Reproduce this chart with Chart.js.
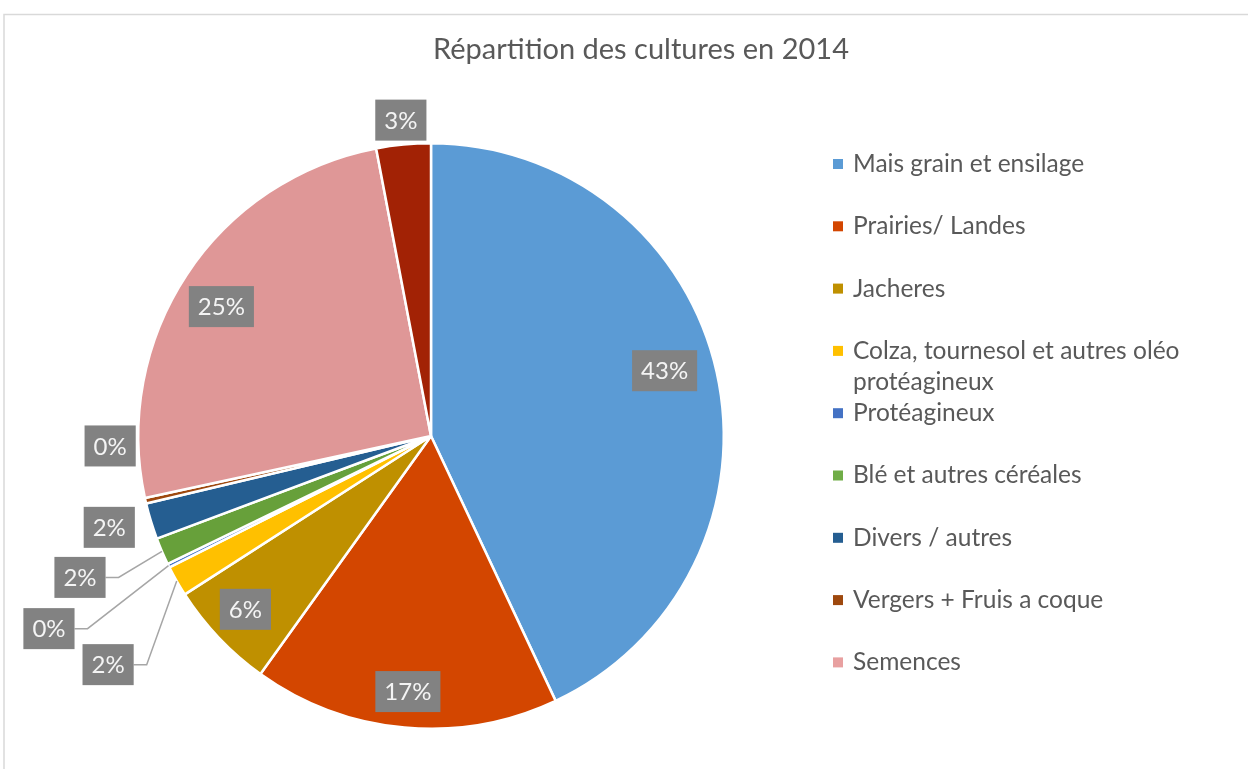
<!DOCTYPE html>
<html><head><meta charset="utf-8">
<script src="https://cdn.jsdelivr.net/npm/chart.js@4.4.1/dist/chart.umd.min.js"></script>
<style>html,body{margin:0;padding:0;background:#fff;overflow:hidden}#wrap{position:relative;width:1248px;height:769px}</style>
</head><body><div id="wrap"><canvas id="c" width="1248" height="769"></canvas></div>
<script>
// ---- data ----
const chartTitle = 'Répartition des cultures en 2014';
const categories = ['Mais grain et ensilage','Prairies/ Landes','Jacheres','Colza, tournesol et autres oléo protéagineux','Protéagineux','Blé et autres céréales','Divers / autres','Vergers + Fruis a coque','Semences',''];
const values = [43.0, 16.9, 6.0, 1.7, 0.2, 1.5, 2.0, 0.3, 25.4, 3.0];
const legendCount = 9;

// ---- style ----
const colors = ['#5B9BD5','#D34600','#BF9000','#FFC000','#4472C4','#67A03A','#255E91','#9E480E','#DF9797','#A22205'];
const legendColors = ['#5B9BD5','#D34600','#BF9000','#FFC000','#4472C4','#70AD47','#255E91','#9E480E','#E8A0A0'];
// label box centre relative to pie centre, in units of radius
const labelPos = [[0.798,-0.223],[-0.079,0.873],[-0.634,0.592],[-1.103,0.781],[-1.305,0.658],[-1.199,0.483],[-1.099,0.312],[-1.096,0.034],[-0.716,-0.442],[-0.103,-1.079]];
const hasLeader = [false,false,false,true,true,true,false,false,false,false];
const FONT = 'Lato, "Open Sans", sans-serif';

const decor = {
  id: 'decor',
  beforeDraw(chart) {
    const ctx = chart.ctx;
    ctx.save();
    ctx.fillStyle = '#fff';
    ctx.fillRect(0,0,chart.width,chart.height);
    ctx.strokeStyle = '#D9D9D9';
    ctx.lineWidth = 1.5;
    ctx.beginPath();
    ctx.moveTo(4, chart.height); ctx.lineTo(4, 14.5); ctx.lineTo(chart.width, 14.5);
    ctx.stroke();
    // title
    ctx.fillStyle = '#595959';
    ctx.font = '29px ' + FONT;
    ctx.textAlign = 'center'; ctx.textBaseline = 'middle';
    ctx.fillText(chartTitle, 641, 50);
    // legend
    ctx.font = '24.5px ' + FONT;
    ctx.textAlign = 'left';
    for (let i = 0; i < legendCount; i++) {
      const y = 164 + i * 62.3;
      ctx.fillStyle = legendColors[i];
      ctx.fillRect(833, y - 5, 10, 10);
      ctx.fillStyle = '#595959';
      const words = categories[i].split(' ');
      let line = '', lines = [];
      for (const w of words) {
        const t = line ? line + ' ' + w : w;
        if (ctx.measureText(t).width > 360 && line) { lines.push(line); line = w; } else line = t;
      }
      lines.push(line);
      lines.forEach((l, k) => ctx.fillText(l, 853, y + k * 31));
    }
    ctx.restore();
  },
  afterDatasetsDraw(chart) {
    const ctx = chart.ctx;
    const meta = chart.getDatasetMeta(0);
    ctx.save();
    ctx.font = '24px ' + FONT;
    ctx.textAlign = 'center'; ctx.textBaseline = 'middle';
    meta.data.forEach((arc, i) => {
      const p = arc.getProps(['x','y','outerRadius','startAngle','endAngle'], true);
      const R = p.outerRadius;
      const cx = p.x + labelPos[i][0] * R, cy = p.y + labelPos[i][1] * R;
      const txt = Math.round(values[i]) + '%';
      const w = ctx.measureText(txt).width + 18, h = 41;
      if (hasLeader[i]) {
        const mid = (p.startAngle + p.endAngle) / 2;
        const ex = p.x + R * Math.cos(mid), ey = p.y + R * Math.sin(mid);
        ctx.strokeStyle = '#A6A6A6'; ctx.lineWidth = 1.5;
        ctx.beginPath();
        ctx.moveTo(cx + w/2, cy); ctx.lineTo(cx + w/2 + 13, cy); ctx.lineTo(ex, ey);
        ctx.stroke();
      }
      ctx.fillStyle = '#828282';
      ctx.fillRect(cx - w/2, cy - h/2, w, h);
      ctx.fillStyle = '#F4F4F4';
      ctx.fillText(txt, cx, cy + 1);
    });
    ctx.restore();
  }
};

new Chart(document.getElementById('c'), {
  type: 'pie',
  data: { labels: categories, datasets: [{ data: values, backgroundColor: colors, borderColor: '#fff', borderWidth: 2.5 }] },
  options: {
    responsive: false, animation: false, devicePixelRatio: 1,
    layout: { padding: { left: 137, right: 523, top: 142, bottom: 39 } },
    plugins: { legend: { display: false }, tooltip: { enabled: false }, title: { display: false } }
  },
  plugins: [decor]
});
</script></body></html>
